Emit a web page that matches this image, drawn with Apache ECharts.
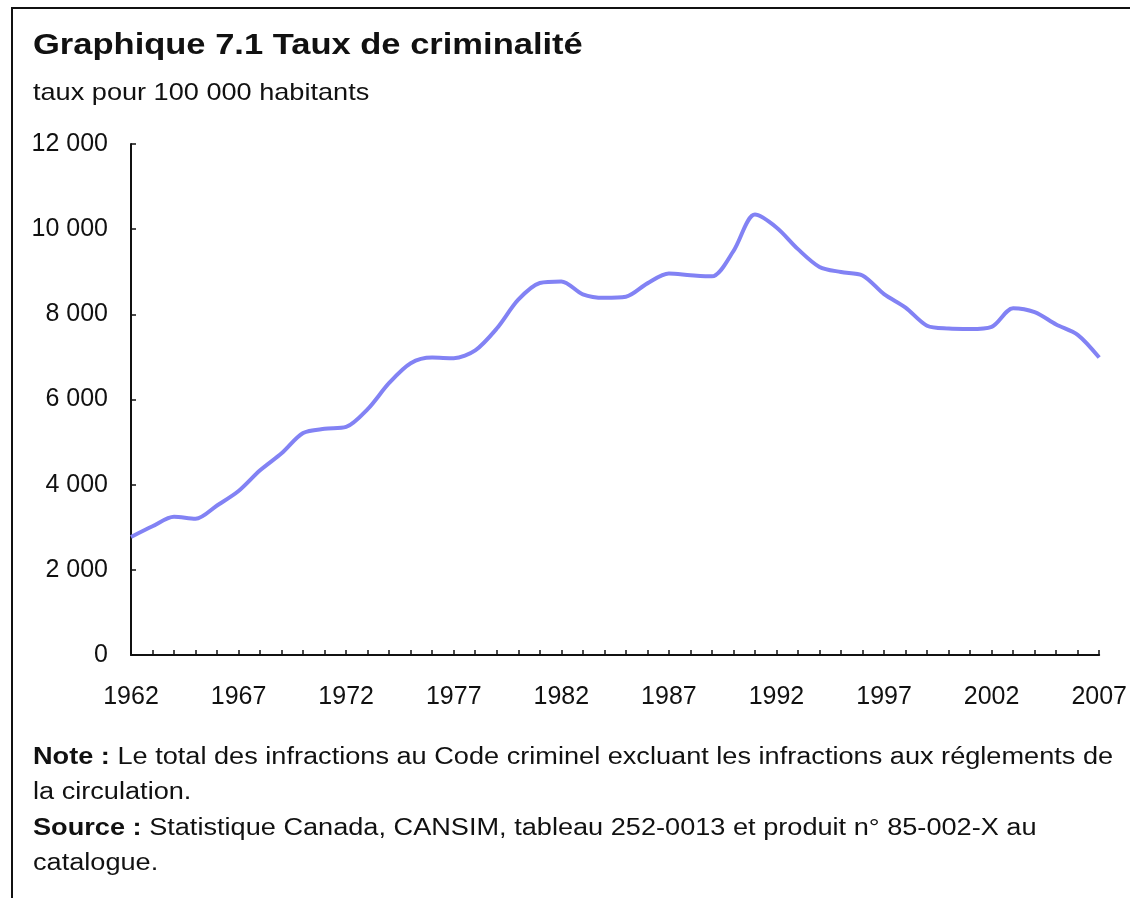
<!DOCTYPE html>
<html>
<head>
<meta charset="utf-8">
<title>Graphique 7.1 Taux de criminalité</title>
<script src="https://cdn.jsdelivr.net/npm/echarts@6/dist/echarts.min.js"></script>
<style>
    html, body { margin: 0; padding: 0; background: #fff; }
    #frame {
        position: absolute; left: 11px; top: 7px; width: 1119px; height: 891px;
        border-left: 2px solid #111; border-top: 2px solid #111;
    }
    #chart { position: absolute; left: 0; top: 0; width: 1130px; height: 898px; }
</style>
</head>
<body>
<div id="frame"></div>
<div id="chart"></div>
<script>
// Taux de criminalité, pour 100 000 habitants
const years = [];
for (let y = 1962; y <= 2007; y++) years.push(String(y));

const taux = [
    2771, 3022, 3245, 3199, 3511, 3850, 4336, 4737, 5212, 5311,
    5355, 5773, 6388, 6852, 6984, 6971, 7154, 7666, 8343, 8736,
    8773, 8470, 8387, 8413, 8727, 8957, 8919, 8892, 9485, 10342,
    10040, 9531, 9114, 8993, 8914, 8475, 8160, 7733, 7666, 7655,
    7706, 8143, 8051, 7761, 7518, 6984
];

const yTicks = [0, 2000, 4000, 6000, 8000, 10000, 12000];

const police = 'Liberation Sans, Arial, sans-serif';

function espaceMilliers(v) {
    return String(v).replace(/\B(?=(\d{3})+(?!\d))/g, ' ');
}

const chart = echarts.init(document.getElementById('chart'));

chart.setOption({
    backgroundColor: 'transparent',
    animation: false,
    grid: { left: 131, right: 27, top: 144, bottom: 243 },
    xAxis: {
        type: 'category',
        data: years,
        boundaryGap: false,
        axisLine: { lineStyle: { color: '#111', width: 2 } },
        axisTick: { inside: true, length: 5, interval: 0, lineStyle: { color: '#111', width: 1.5 } },
        axisLabel: {
            interval: 4, margin: 30, color: '#111',
            fontFamily: police, fontSize: 25
        },
        splitLine: { show: false }
    },
    yAxis: {
        type: 'value',
        min: yTicks[0],
        max: yTicks[yTicks.length - 1],
        interval: 2000,
        axisLine: { show: true, lineStyle: { color: '#111', width: 2 } },
        axisTick: { show: true, inside: true, length: 5, lineStyle: { color: '#111', width: 1.5 } },
        axisLabel: {
            margin: 23, color: '#111',
            fontFamily: police, fontSize: 25,
            formatter: espaceMilliers
        },
        splitLine: { show: false }
    },
    series: [{
        type: 'line',
        data: taux,
        smooth: 0.3,
        showSymbol: false,
        lineStyle: { color: '#8282f4', width: 4 }
    }],
    graphic: [
        {
            type: 'text', x: 33, y: 31, scaleX: 1.19,
            style: {
                text: 'Graphique 7.1 Taux de criminalité',
                font: 'bold 29px ' + police, fill: '#111'
            }
        },
        {
            type: 'text', x: 33, y: 81, scaleX: 1.13,
            style: {
                text: 'taux pour 100 000 habitants',
                font: '24px ' + police, fill: '#111'
            }
        },
        {
            type: 'text', x: 33, y: 740, scaleX: 1.18,
            style: {
                text: '{b|Note :} Le total des infractions au Code criminel excluant les infractions aux réglements de\nla circulation.\n{b|Source :} Statistique Canada, CANSIM, tableau 252-0013 et produit n° 85-002-X au\ncatalogue.',
                font: '23px ' + police, fill: '#111',
                lineHeight: 35.3,
                rich: {
                    b: { font: 'bold 23px ' + police, fill: '#111', lineHeight: 35.3 }
                }
            }
        }
    ]
});
</script>
</body>
</html>
